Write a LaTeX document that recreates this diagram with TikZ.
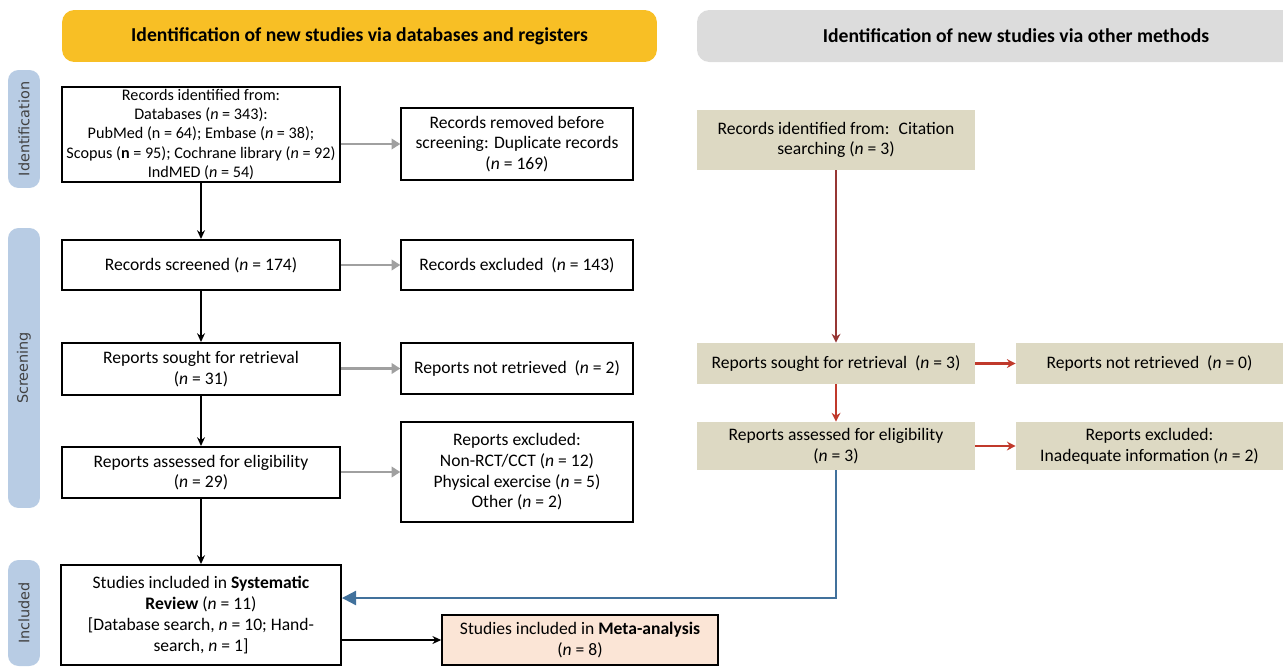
\documentclass[tikz,border=0pt]{standalone}
\usepackage{fontspec}
\setmainfont{Carlito}
\newfontfamily\sidefont{DejaVu Sans}
\usetikzlibrary{arrows.meta,positioning,calc}

\definecolor{hdyellow}{RGB}{248,191,37}
\definecolor{hdgrey}{RGB}{220,220,220}
\definecolor{tanbg}{RGB}{221,217,195}
\definecolor{peachbg}{RGB}{251,229,214}
\definecolor{sideblue}{RGB}{184,204,228}
\definecolor{sidetext}{RGB}{64,64,64}
\definecolor{arrgrey}{RGB}{160,160,160}
\definecolor{arrred}{RGB}{192,57,43}
\definecolor{arrdred}{RGB}{150,54,52}
\definecolor{arrblue}{RGB}{65,113,156}

\newcommand{\nn}{\textit{n}}

\tikzset{
    txt/.style={font=\fontsize{10}{11.8}\selectfont, align=center, inner sep=1pt},
    mainbox/.style={txt, draw, line width=1.1pt, minimum width=5.56cm},
    exbox/.style={txt, draw, line width=0.8pt, minimum width=4.64cm},
    tanbox/.style={txt, fill=tanbg, minimum width=5.56cm},
    headtxt/.style={font=\bfseries\fontsize{11.2}{13}\selectfont},
    sidebar/.style={fill=sideblue, rounded corners=6pt, rotate=90, minimum height=0.64cm,
        inner sep=0pt, text=sidetext, font=\sidefont\fontsize{8.2}{9}\selectfont},
    blackarr/.style={-{Stealth[length=5pt,width=4.5pt]}, line width=1pt},
    greyarr/.style={-{Triangle[length=5pt,width=6pt]}, line width=1.6pt, arrgrey},
    redarr/.style={-{Stealth[length=5pt,width=5pt]}, line width=1.2pt, arrred},
    bluearr/.style={-{Triangle[length=8pt,width=8pt]}, line width=1.2pt, arrblue}
}

\begin{document}
\begin{tikzpicture}[x=0.02cm, y=-0.02cm]
    \useasboundingbox (0,0) rectangle (1283,666);

    % Headers
    \node[fill=hdyellow, rounded corners=7pt, minimum width=11.9cm, minimum height=1.04cm, headtxt]
        (hdDb) at (359.5,36) {Identification of new studies via databases and registers};
    \fill[hdgrey, rounded corners=7pt] (1283,10) -- (697,10) -- (697,62) -- (1283,62);
    \node[headtxt] (hdOther) at (1016,36) {Identification of new studies via other methods};

    % Side bars
    \foreach \y/\h/\name/\lbl in {129/2.36/sideId/Identification, 368/5.6/sideScr/Screening, 613/2.12/sideInc/Included} {
        \node[sidebar, minimum width=\h cm] (\name) at (24,\y) {\lbl};
    }

    % Databases and registers
    \node[mainbox, minimum height=1.86cm, font=\fontsize{9.2}{11}\selectfont] (B1) at (201,134.5)
        {Records identified from:\\ Databases (\nn{} = 343):\\ PubMed (n = 64); Embase (\nn{} = 38);\\
         Scopus (\textbf{n} = 95); Cochrane library (\nn{} = 92)\\ IndMED (\nn{} = 54)};
    \node[exbox, minimum height=1.44cm] (R1) at (517,144)
        {Records removed before\\ screening: Duplicate records\\ (\nn{} = 169)};
    \node[mainbox, minimum height=1.0cm] (B2) at (201,265) {Records screened (\nn{} = 174)};
    \node[exbox, minimum height=1.0cm] (R2) at (517,265) {Records excluded~ (\nn{} = 143)};
    \node[mainbox, minimum height=1.04cm] (B3) at (201,369) {Reports sought for retrieval\\ (\nn{} = 31)};
    \node[exbox, minimum height=1.02cm] (R3) at (517,368.5) {Reports not retrieved~ (\nn{} = 2)};
    \node[mainbox, minimum height=1.02cm] (B4) at (201,472.5) {Reports assessed for eligibility\\ (\nn{} = 29)};
    \node[exbox, minimum height=2.0cm] (R4) at (517,472)
        {Reports excluded:\\ Non-RCT/CCT (\nn{} = 12)\\ Physical exercise (\nn{} = 5)\\ Other (\nn{} = 2)};
    \node[mainbox, minimum width=5.6cm, minimum height=2.0cm] (B5) at (201,615)
        {Studies included in \textbf{Systematic}\\ \textbf{Review} (\nn{} = 11)\\
         {[}Database search, \nn{} = 10; Hand-\\ search, \nn{} = 1]};
    \node[txt, draw, line width=0.9pt, fill=peachbg, minimum width=5.52cm, minimum height=1.0cm]
        (Meta) at (580,640) {Studies included in \textbf{Meta-analysis}\\ (\nn{} = 8)};

    % Other methods
    \node[tanbox, minimum height=1.2cm] (C1) at (836,140) {Records identified from:~ Citation\\ searching (\nn{} = 3)};
    \node[tanbox, minimum height=0.82cm] (C2) at (836,363.5) {Reports sought for retrieval~ (\nn{} = 3)};
    \node[tanbox, minimum width=5.34cm, minimum height=0.82cm] (C3) at (1149.5,363.5) {Reports not retrieved~ (\nn{} = 0)};
    \node[tanbox, minimum height=0.96cm] (C4) at (836,446) {Reports assessed for eligibility\\ (\nn{} = 3)};
    \node[tanbox, minimum width=5.34cm, minimum height=0.96cm] (C5) at (1149.5,446) {Reports excluded:\\ Inadequate information (\nn{} = 2)};

    % Arrows
    \foreach \a/\b in {B1/B2, B2/B3, B3/B4, B4/B5} {
        \draw[blackarr] (\a.south) -- (\b.north);
    }
    \foreach \a/\b in {B1/R1, B2/R2, B3/R3, B4/R4} {
        \draw[greyarr] (\a.east |- \b.west) -- (\b.west);
    }
    \draw[blackarr] (B5.east |- Meta.west) -- (Meta.west);

    \draw[redarr, arrdred, line width=0.9pt] (C1.south) -- (C2.north);
    \draw[redarr] (C2.east) -- (C3.west);
    \draw[redarr] (C2.south) -- (C4.north);
    \draw[redarr] (C4.east) -- (C5.west);
    \draw[bluearr] (C4.south) |- ([yshift=0.34cm]B5.east);
\end{tikzpicture}
\end{document}
